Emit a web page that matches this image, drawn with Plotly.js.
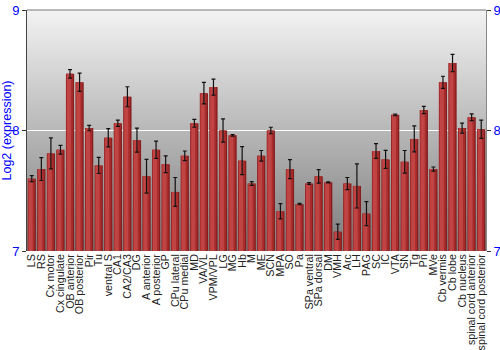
<!DOCTYPE html>
<html>
<head>
<meta charset="utf-8">
<script src="https://cdn.plot.ly/plotly-3.0.1.min.js"></script>
<style>html,body{margin:0;padding:0;background:#fff;}#chart{width:500px;height:350px;}</style>
</head>
<body>
<div id="chart"></div>
<script>
const regions = ["LS","RS","Cx motor","Cx cingulate","OB anterior","OB posterior","Pir","Tu","ventral S","CA1","CA2/CA3","DG","A anterior","A posterior","GP","CPu lateral","CPu medial","MD","VA/VL","VPM/VPL","LG","MG","Hb","M","ME","SCN","MPA","SO","Pa","SPa ventral","SPa dorsal","DM","VMH","Arc","LH","PAG","SC","IC","VTA","SN","Tg","Pn","MVe","Cb vermis","Cb lobe","Cb nucleus","spinal cord anterior","spinal cord posterior"];
const expression = [7.60,7.68,7.81,7.84,8.47,8.40,8.02,7.71,7.94,8.06,8.28,7.92,7.62,7.84,7.72,7.49,7.79,8.06,8.31,8.36,8.00,7.96,7.75,7.56,7.79,8.00,7.33,7.68,7.39,7.56,7.62,7.57,7.16,7.56,7.54,7.31,7.83,7.76,8.13,7.74,7.93,8.17,7.68,8.40,8.56,8.02,8.11,8.01];
const errors = [0.025,0.095,0.128,0.036,0.036,0.076,0.022,0.067,0.076,0.026,0.083,0.10,0.14,0.072,0.07,0.12,0.04,0.033,0.089,0.067,0.097,0.007,0.117,0.015,0.044,0.027,0.063,0.079,0.006,0.008,0.056,0.004,0.063,0.05,0.183,0.099,0.061,0.075,0.007,0.094,0.108,0.03,0.017,0.05,0.071,0.042,0.028,0.076];
const yTicks = [7,8,9];

const svg = '<svg xmlns="http://www.w3.org/2000/svg" width="100" height="100" preserveAspectRatio="none"><defs><linearGradient id="g" x1="0" y1="0" x2="0" y2="1"><stop offset="0" stop-color="#f3f3f3"/><stop offset="1" stop-color="#7c7c7c"/></linearGradient></defs><rect width="100" height="100" fill="url(#g)"/></svg>';
const bgSrc = 'data:image/svg+xml;base64,' + btoa(svg);

function layer(color, w, off) {
  return {type:'bar', x:regions, y:expression.map(v=>v-7), base:7,
    width:regions.map(()=>w), offset:regions.map(()=>off),
    marker:{color:color, line:{width:0}}, hoverinfo:'skip', showlegend:false};
}
const traces = [
  layer('#861c1c', 0.86, -0.43),
  layer('#a82c2c', 0.70, -0.40),
  layer('#c04444', 0.42, -0.33),
  {type:'scatter', mode:'markers', x:regions, y:expression, yaxis:'y2',
   marker:{size:1, opacity:0}, showlegend:false, hoverinfo:'skip',
   error_y:{type:'data', array:errors, visible:true, color:'#111', thickness:1.2, width:2}}
];
const yax = {range:[7,9], tickvals:yTicks, ticktext:yTicks.map(String), showgrid:true, gridcolor:'#ffffff', gridwidth:1.2,
  zeroline:false, ticks:'outside', ticklen:4, tickcolor:'#333', tickfont:{family:'Liberation Sans, Arial, sans-serif', size:13, color:'#0000ff'}};
const layout = {
  width:500, height:350,
  margin:{l:27, r:14, t:10, b:99},
  paper_bgcolor:'#ffffff', plot_bgcolor:'rgba(0,0,0,0)',
  barmode:'overlay',
  font:{family:'Liberation Sans, Arial, sans-serif'},
  xaxis:{type:'category', tickmode:'array', tickvals:regions, ticktext:regions, tickangle:-90,
    tickfont:{size:10.7, color:'#222'}, showgrid:false, zeroline:false, ticks:'', ticklen:0, showline:false, range:[-0.5, regions.length-0.5]},
  yaxis:Object.assign({}, yax, {showline:true, linecolor:'#444', linewidth:1,
    title:{text:'Log2 (expression)', font:{size:12.5, color:'#0000ff'}, standoff:4}}),
  yaxis2:Object.assign({}, yax, {overlaying:'y', side:'right', showgrid:false, showline:true, linecolor:'#888', linewidth:1}),
  images:[{source:bgSrc, xref:'paper', yref:'paper', x:0, y:1, sizex:1, sizey:1, sizing:'stretch', layer:'below', xanchor:'left', yanchor:'top'}],
  shapes:[{type:'line', xref:'paper', yref:'paper', x0:0, x1:1, y0:1, y1:1, line:{color:'#777', width:1}}]
};
Plotly.newPlot('chart', traces, layout, {staticPlot:true, displayModeBar:false});
</script>
</body>
</html>
